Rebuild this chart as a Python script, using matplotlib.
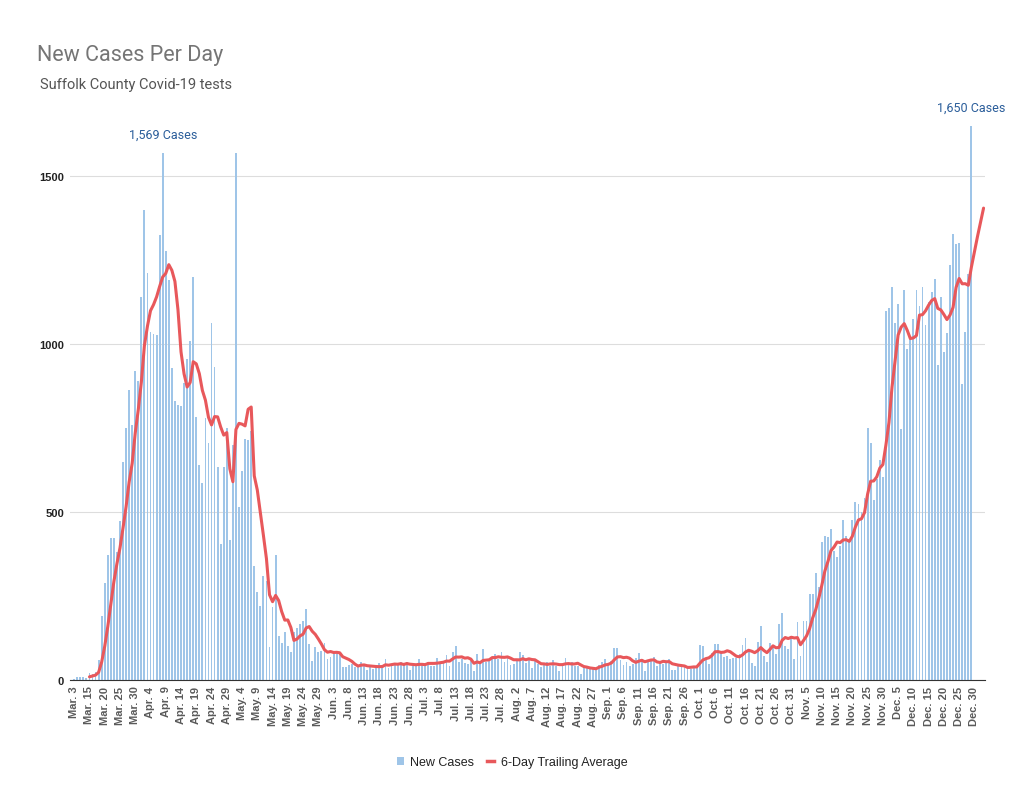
import numpy as np
import pandas as pd
import matplotlib
matplotlib.use('Agg')
import matplotlib.pyplot as plt
from matplotlib.patches import Patch
from matplotlib.lines import Line2D

plt.rcParams['font.family'] = ['Liberation Sans', 'DejaVu Sans']

# Daily new cases (first bar = Mar. 3, daily from Mar. 15)
spring_cases = [3, 8, 10, 8, 7, 21, 19, 23, 60, 191,
                289, 372, 423, 423, 380, 472, 648, 749, 864, 759,
                921, 889, 1139, 1400, 1213, 1035, 1030, 1028, 1325, 1569,
                1278, 1190, 929, 830, 820, 815, 885, 955, 1010, 1201,
                782, 640, 586, 780, 705, 1064, 931, 635, 405, 635,
                750, 417, 700, 1569, 514, 621, 719, 714, 740, 340,
                261, 221, 309, 295, 97, 216, 373, 130, 110, 144,
                100, 82, 142, 154, 166, 175]
summer_cases = [211, 107, 58, 99, 84, 85, 109, 62, 70, 82,
                87, 77, 38, 38, 45, 48, 38, 43, 53, 43,
                31, 43, 33, 38, 51, 45, 62, 36, 43, 48,
                48, 55, 48, 53, 31, 43, 43, 62, 48, 48,
                53, 43, 43, 67, 55, 57, 74, 41, 82, 102,
                53, 62, 51, 48, 57, 28, 77, 48, 92, 55,
                62, 67, 77, 62, 84, 53, 70, 45, 48, 62,
                82, 74, 51, 62, 35, 57, 48, 38, 48, 53,
                43, 60, 43, 28]
fall_cases = [48, 67, 48, 53, 43, 41, 18, 38, 38, 38,
              35, 35, 45, 55, 62, 48, 58, 94, 95, 60,
              45, 55, 41, 48, 67, 80, 62, 28, 58, 62,
              70, 43, 53, 48, 51, 64, 31, 31, 41, 41,
              43, 38, 33, 38, 41, 104, 102, 64, 48, 80,
              107, 107, 87, 70, 72, 62, 67, 67, 77, 104,
              124, 92, 51, 41, 112, 160, 72, 53, 110, 104,
              77, 167, 199]
winter_cases = [102, 92, 127, 64, 174, 72, 177, 175, 256, 256,
                320, 276, 410, 430, 425, 450, 385, 365, 400, 477,
                430, 420, 477, 531, 524, 499, 541, 749, 707, 536,
                598, 654, 605, 1099, 1108, 1169, 1063, 1119, 746, 1161,
                987, 1024, 1074, 1160, 1113, 1169, 1057, 1124, 1156, 1194,
                939, 1141, 976, 1033, 1237, 1329, 1298, 1300, 881, 1035,
                1209, 1650]
# trailing average points drawn past the last bar
avg_tail = [1275, 1320, 1362, 1405]

# tick labels: every 5th category
tick_labels = ['Mar. 3'] + [d.strftime('%b. ') + str(d.day)
                            for d in pd.date_range('2020-03-15', '2020-12-30', freq='5D')]

new_cases = np.array(spring_cases + summer_cases + fall_cases + winter_cases, dtype=float)
x_bars = np.arange(1, len(new_cases) + 1)
avg = pd.Series(new_cases).rolling(6).mean().values
avg_all = np.concatenate([avg, avg_tail])
x_avg = np.arange(1, len(avg_all) + 1)

BAR_COLOR = '#9fc5e8'
LINE_COLOR = '#e8585b'

fig = plt.figure(figsize=(10.24, 8.12), dpi=100)
ax = fig.add_axes([0.068, 0.1613, 0.894, 0.7032])

ax.bar(x_bars, new_cases, width=0.6, color=BAR_COLOR, zorder=2)
ax.plot(x_avg, avg_all, color=LINE_COLOR, lw=2.2, zorder=3,
        solid_joinstyle='round', solid_capstyle='round')

ax.set_xlim(-0.5, 299.5)
ax.set_ylim(0, 1700)
ax.set_yticks([0, 500, 1000, 1500])
ax.set_yticklabels(['0', '500', '1000', '1500'], fontsize=8, fontweight='bold', color='#222222')
ax.grid(axis='y', color='#dddddd', lw=0.8, zorder=0)
ax.set_axisbelow(True)

ticks = np.arange(1, 1 + 5 * len(tick_labels), 5)
ax.set_xticks(ticks)
ax.set_xticklabels(tick_labels, rotation=90, fontsize=8, fontweight='bold', color='#5a5a5a')
ax.tick_params(axis='both', length=0, pad=4)

for side in ['top', 'right', 'left']:
    ax.spines[side].set_visible(False)
ax.spines['bottom'].set_color('#333333')
ax.spines['bottom'].set_linewidth(0.8)

# peak annotations
for i in [int(np.argmax(new_cases[:40])), int(np.argmax(new_cases))]:
    ax.annotate(f'{int(new_cases[i]):,} Cases', xy=(x_bars[i], new_cases[i]),
                xytext=(0, 9), textcoords='offset points', ha='center', va='bottom',
                fontsize=9, color='#2a5d9a', family=['Roboto', 'DejaVu Sans'])

fig.text(0.036, 0.925, 'New Cases Per Day', fontsize=15.5, color='#757575', va='baseline',
         family=['Roboto', 'DejaVu Sans'])
fig.text(0.039, 0.891, 'Suffolk County Covid-19 tests', fontsize=10.5, color='#555555',
         va='baseline', family=['Roboto', 'DejaVu Sans'])

handles = [Patch(facecolor=BAR_COLOR, label='New Cases'),
           Line2D([0], [0], color=LINE_COLOR, lw=2.5, label='6-Day Trailing Average')]
fig.legend(handles=handles, loc='center', bbox_to_anchor=(0.5, 0.06), ncol=2, frameon=False,
           fontsize=9, handlelength=0.6, handleheight=0.6, columnspacing=1.0,
           handletextpad=0.5, labelcolor='#222222')

fig.savefig('out.png', dpi=100)
